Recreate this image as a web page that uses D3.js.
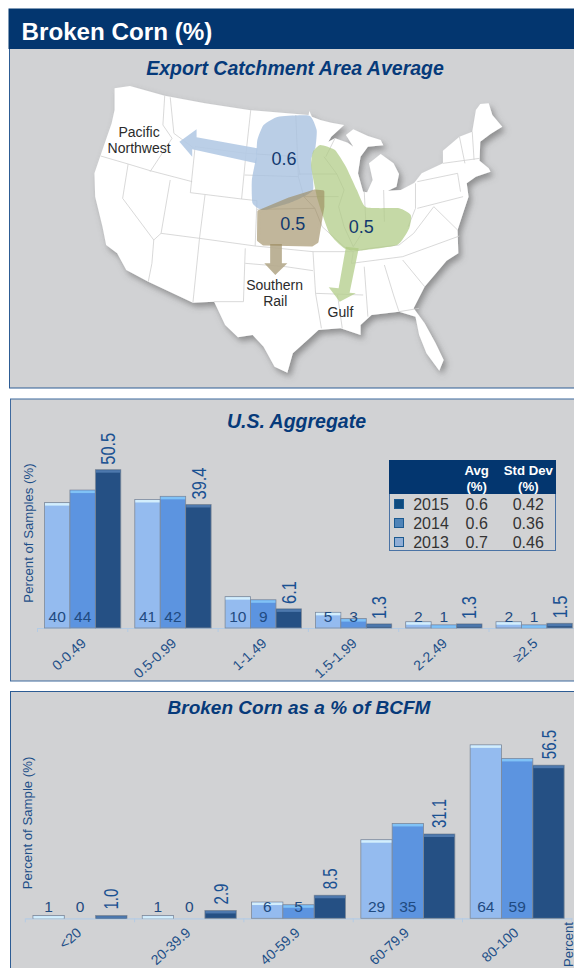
<!DOCTYPE html>
<html>
<head>
<meta charset="utf-8">
<script src="https://cdn.jsdelivr.net/npm/d3@7/dist/d3.min.js"></script>
<style>
  html, body { margin: 0; padding: 0; background: #fff; overflow: hidden; }
  svg { display: block; font-family: "Liberation Sans", Arial, sans-serif; }
</style>
</head>
<body>
<svg id="chart" width="574" height="968"></svg>
<script>
// values
var years = ["2013", "2014", "2015"];

var aggCategories = ["0-0.49", "0.5-0.99", "1-1.49", "1.5-1.99", "2-2.49", "≥2.5"];
var agg2013 = [40, 41, 10, 5, 2, 2];
var agg2014 = [44, 42, 9, 3, 1, 1];
var agg2015 = [50.5, 39.4, 6.1, 1.3, 1.3, 1.5];

var bcfmCategories = ["<20", "20-39.9", "40-59.9", "60-79.9", "80-100"];
var bcfm2013 = [1, 1, 6, 29, 64];
var bcfm2014 = [0, 0, 5, 35, 59];
var bcfm2015 = [1.0, 2.9, 8.5, 31.1, 56.5];

var tableYears = ["2015", "2014", "2013"];
var tableAvg = ["0.6", "0.6", "0.7"];
var tableStd = ["0.42", "0.36", "0.46"];

// map outline and state lines
var usOutline = [[313,265],[355,258],[450,287],[560,310],[680,330],[843,345],[845,333],[852,350],[875,360],[905,368],[940,375],[905,410],[897,425],[915,415],[950,428],[965,440],[945,405],[965,388],[1005,408],[1040,420],[1047,436],[1005,440],[985,470],[978,520],[992,575],[1003,577],[1018,540],[1008,490],[1040,462],[1075,490],[1090,522],[1083,560],[1060,572],[1095,570],[1132,548],[1152,520],[1210,490],[1210,452],[1255,410],[1290,395],[1300,330],[1312,312],[1335,310],[1345,345],[1372,380],[1340,402],[1312,425],[1310,482],[1335,505],[1340,515],[1300,530],[1275,550],[1280,590],[1265,640],[1250,690],[1252,760],[1220,782],[1160,860],[1130,925],[1160,970],[1190,1030],[1212,1080],[1200,1112],[1165,1060],[1145,1005],[1135,950],[1090,935],[1015,945],[985,975],[985,1005],[930,985],[870,990],[850,1010],[800,1060],[785,1118],[750,1100],[720,1040],[690,1005],[650,1012],[615,975],[585,905],[527,908],[405,845],[345,810],[320,760],[290,735],[280,680],[260,590],[258,520],[275,465],[305,370],[313,330]];
var stateLines = [
  [[275,468],[350,492],[410,512],[525,545]],
  [[450,287],[445,375],[470,415],[410,515]],
  [[465,292],[475,400],[530,445]],
  [[350,492],[335,595],[420,720],[415,790],[405,845]],
  [[465,540],[440,700],[420,720]],
  [[533,440],[672,460],[660,597],[520,578],[533,440]],
  [[685,330],[672,460]],
  [[672,460],[810,470],[820,525]],
  [[668,525],[815,530]],
  [[560,585],[545,715],[527,908]],
  [[440,700],[545,715],[697,738],[855,755],[960,755]],
  [[660,597],[702,602],[697,738]],
  [[702,628],[860,625]],
  [[670,745],[665,905]],
  [[585,905],[665,905]],
  [[670,790],[780,800],[855,812]],
  [[855,755],[862,880],[878,985]],
  [[862,880],[992,885]],
  [[808,345],[815,530],[830,590],[860,625],[880,680],[940,740],[965,755],[960,790]],
  [[815,522],[920,522]],
  [[830,590],[925,590]],
  [[885,470],[920,522],[940,570],[925,620],[940,680],[965,740]],
  [[915,415],[890,470]],
  [[960,790],[1100,770],[1255,708]],
  [[960,755],[1010,745],[1090,735],[1130,700],[1185,620],[1250,690]],
  [[995,575],[1000,680],[965,740]],
  [[1048,570],[1050,665]],
  [[1135,550],[1135,625],[1115,680]],
  [[1140,625],[1265,590]],
  [[1140,545],[1250,520],[1258,575]],
  [[995,800],[1005,950]],
  [[1050,795],[1075,885],[1090,935],[1145,925]],
  [[1100,780],[1160,860]],
  [[1255,410],[1270,490]],
  [[1290,395],[1295,480]],
  [[1210,490],[1310,475]],
  [[922,885],[935,985]]
];
var blueRegion = [[760,350],[845,347],[865,390],[862,440],[850,480],[855,570],[800,605],[720,630],[690,610],[688,540],[700,470],[703,420],[720,375]];
var greenRegion = [[875,435],[915,450],[945,500],[975,570],[1000,622],[1090,625],[1122,645],[1118,685],[1085,735],[980,752],[940,745],[900,700],[868,600],[850,500],[855,455]];
var brownRegion = [[860,573],[882,575],[882,620],[866,725],[852,735],[720,732],[706,720],[707,635],[790,597]];
var blueArrow = [[703,445],[537,412],[537,388],[490,425],[525,470],[525,448],[700,490]];
var greenArrow = [[945,740],[980,745],[955,878],[972,880],[928,905],[898,862],[925,865]];
var brownArrow = [[738,732],[770,732],[770,790],[785,790],[752,825],[722,790],[738,790]];

var mapTexts = ["Pacific", "Northwest", "Southern", "Rail", "Gulf"];
var mapTextSpots = [[380,396],[380,444],[750,855],[752,903],[930,935]];
var mapValues = ["0.6", "0.5", "0.5"];
var mapValueSpots = [[776,477],[800,671],[987,681]];

var barColors = { "2013": "#94bbef", "2014": "#5c94e0", "2015": "#255084" };
var stripColors = { "2013": "#d3eefc", "2014": "#80c2f6", "2015": "#4d78ad" };
var navy = "#03366f", titleBlue = "#063a7a", textBlue = "#1d4f88", panelGray = "#d1d2d4";

var svg = d3.select("#chart");

// shadow for the map
svg.append("defs").append("filter")
  .attr("id", "mapShadow")
  .attr("x", "-10%").attr("y", "-10%").attr("width", "120%").attr("height", "120%")
  .append("feDropShadow")
  .attr("dx", 3).attr("dy", 4).attr("stdDeviation", 3)
  .attr("flood-color", "#555").attr("flood-opacity", 0.55);

// panels
function panel(x, y, h, stroke) {
  svg.append("rect")
    .attr("x", x).attr("y", y)
    .attr("width", 574 - x + 5).attr("height", h)
    .attr("fill", panelGray)
    .attr("stroke", stroke).attr("stroke-width", 1);
}
panel(9.5, 48, 340, "#2d5c94");
panel(10.5, 399, 282, "#3f6a9e");
panel(10.5, 691.5, 290, "#2d5c94");

svg.append("rect")
  .attr("x", 8.5).attr("y", 8.5).attr("width", 570).attr("height", 40.5)
  .attr("fill", navy);
svg.append("text")
  .attr("x", 21.5).attr("y", 40)
  .attr("fill", "#fff").attr("font-size", 24.2).attr("font-weight", "bold")
  .text("Broken Corn (%)");

function panelTitle(label, x, y, size) {
  svg.append("text")
    .attr("x", x).attr("y", y)
    .attr("text-anchor", "middle")
    .attr("fill", titleBlue).attr("font-size", size)
    .attr("font-weight", "bold").attr("font-style", "italic")
    .text(label);
}
panelTitle("Export Catchment Area Average", 295, 75, 19.5);
panelTitle("U.S. Aggregate", 296.5, 428, 19.5);
panelTitle("Broken Corn as a % of BCFM", 299, 714, 19);

// map, traced coordinates go through these two scales
var mapX = d3.scaleLinear().domain([0, 1568]).range([0, 574]);
var mapY = d3.scaleLinear().domain([0, 1185]).range([0, 395]);
var sharp = d3.line().x(function(d) { return mapX(d[0]); }).y(function(d) { return mapY(d[1]); });
var round = d3.line().x(function(d) { return mapX(d[0]); }).y(function(d) { return mapY(d[1]); })
  .curve(d3.curveCardinalClosed.tension(0.5));

var map = svg.append("g");
map.append("path")
  .attr("d", sharp(usOutline) + "Z")
  .attr("fill", "#fff")
  .attr("filter", "url(#mapShadow)");
map.append("g").selectAll("path")
  .data(stateLines)
  .enter().append("path")
  .attr("d", sharp)
  .attr("fill", "none")
  .attr("stroke", "#cfcfcf").attr("stroke-width", 0.8);

map.append("path").attr("d", sharp(blueArrow) + "Z").attr("fill", "#b4cae4").attr("opacity", 0.9);
map.append("path").attr("d", round(blueRegion)).attr("fill", "#a9c2e0").attr("opacity", 0.8);
map.append("path").attr("d", sharp(greenArrow) + "Z").attr("fill", "#b6d090").attr("opacity", 0.8);
map.append("path").attr("d", round(greenRegion)).attr("fill", "#aecb84").attr("opacity", 0.72);
map.append("path").attr("d", sharp(brownArrow) + "Z").attr("fill", "#b5aa8c").attr("opacity", 0.9);
map.append("path").attr("d", sharp(brownRegion) + "Z")
  .attr("fill", "#9c8a5e").attr("opacity", 0.62)
  .attr("stroke", "#9c8a5e").attr("stroke-width", 3).attr("stroke-linejoin", "round");

map.append("g").selectAll("text")
  .data(mapTexts)
  .enter().append("text")
  .attr("x", function(d, i) { return mapX(mapTextSpots[i][0]); })
  .attr("y", function(d, i) { return mapY(mapTextSpots[i][1]); })
  .attr("dy", ".35em")
  .attr("text-anchor", "middle")
  .attr("font-size", 14).attr("fill", "#2b2b2b")
  .text(function(d) { return d; });
map.append("g").selectAll("text")
  .data(mapValues)
  .enter().append("text")
  .attr("x", function(d, i) { return mapX(mapValueSpots[i][0]); })
  .attr("y", function(d, i) { return mapY(mapValueSpots[i][1]); })
  .attr("dy", ".35em")
  .attr("text-anchor", "middle")
  .attr("font-size", 18).attr("fill", "#12396f")
  .text(function(d) { return d; });

// grouped bars
function groupedBars(o) {
  var x0 = d3.scaleBand().domain(o.categories)
    .range([o.left, o.left + o.step * o.categories.length])
    .paddingInner(o.gap).paddingOuter(o.gap / 2);
  var x1 = d3.scaleBand().domain(years).range([0, x0.bandwidth()]);
  var y = d3.scaleLinear().domain([0, o.maxValue]).range([o.baseline, o.baseline - o.maxValue * o.pxPerUnit]);

  var g = svg.append("g");
  var rows = [];
  o.series.forEach(function(values, s) {
    values.forEach(function(v, i) {
      rows.push({ year: years[s], cat: o.categories[i], value: v });
    });
  });

  // axis, labels from d3 and the separators sit on band edges
  var axis = g.append("g")
    .attr("transform", "translate(0," + o.baseline + ")")
    .call(d3.axisBottom(x0).tickSize(0).tickPadding(0));
  axis.select(".domain").attr("stroke", "#b4cbe4").attr("stroke-width", 1.2);
  axis.selectAll("text")
    .attr("transform", "translate(" + o.labelDx + "," + o.labelDy + ") rotate(-42)")
    .attr("y", 0).attr("dy", ".35em")
    .style("text-anchor", "end")
    .attr("font-family", "Liberation Sans")
    .attr("font-size", 14)
    .attr("fill", textBlue);
  axis.selectAll(".sep")
    .data(d3.range(o.categories.length + 1))
    .enter().append("line")
    .attr("class", "sep")
    .attr("x1", function(d) { return o.left + d * o.step; })
    .attr("x2", function(d) { return o.left + d * o.step; })
    .attr("y1", 0).attr("y2", 4)
    .attr("stroke", "#b4cbe4");

  var bars = g.selectAll(".bar").data(rows).enter().append("g").attr("class", "bar")
    .attr("transform", function(d) { return "translate(" + (x0(d.cat) + x1(d.year)) + ",0)"; });
  bars.append("rect")
    .attr("y", function(d) { return y(d.value); })
    .attr("width", x1.bandwidth())
    .attr("height", function(d) { return y(0) - y(d.value); })
    .attr("fill", function(d) { return barColors[d.year]; })
    .attr("stroke", "#7f8a99").attr("stroke-width", 0.8);
  bars.append("rect")
    .attr("x", 0.5)
    .attr("y", function(d) { return y(d.value) + 0.5; })
    .attr("width", x1.bandwidth() - 1)
    .attr("height", function(d) { return Math.min(2.5, y(0) - y(d.value)); })
    .attr("fill", function(d) { return stripColors[d.year]; });

  // value labels, older years flat at the foot, latest turned above the bar and squeezed like the original
  bars.append("text")
    .attr("transform", function(d) {
      if (d.year == "2015") return "translate(" + x1.bandwidth() / 2 + "," + (y(d.value) - o.labelGap) + ") rotate(-90) scale(" + o.turnedSqueeze + ",1)";
      return "translate(" + x1.bandwidth() / 2 + "," + (o.baseline - o.footLabel) + ")";
    })
    .attr("dy", ".36em")
    .attr("text-anchor", function(d) { return d.year == "2015" ? "start" : "middle"; })
    .attr("font-size", function(d) { return d.year == "2015" ? 20 : 15.5; })
    .attr("fill", function(d) { return d.year == "2015" ? "#1a5192" : "#1f4a80"; })
    .text(function(d) { return d.year == "2015" ? d.value.toFixed(1) : d.value; });

  svg.append("text")
    .attr("transform", "translate(" + o.titleX + "," + o.titleY + ") rotate(-90)")
    .attr("dy", ".35em")
    .attr("text-anchor", "middle")
    .attr("font-size", 13.2).attr("fill", textBlue)
    .text(o.title);
}

groupedBars({
  categories: aggCategories,
  series: [agg2013, agg2014, agg2015],
  left: 37.5, step: 90.3, gap: 0.155,
  baseline: 628, pxPerUnit: 3.135, maxValue: 55,
  labelDx: 1, labelDy: 13, labelGap: 5, footLabel: 12, turnedSqueeze: 0.82,
  title: "Percent of Samples (%)", titleX: 28.5, titleY: 533
});
groupedBars({
  categories: bcfmCategories,
  series: [bcfm2013, bcfm2014, bcfm2015],
  left: 25.3, step: 109.3, gap: 0.14,
  baseline: 918.3, pxPerUnit: 2.71, maxValue: 70,
  labelDx: -1, labelDy: 12, labelGap: 6, footLabel: 11.5, turnedSqueeze: 0.75,
  title: "Percent of Sample (%)", titleX: 27, titleY: 823
});

svg.append("text")
  .attr("transform", "translate(568,967) rotate(-90)")
  .attr("dy", ".35em")
  .attr("font-size", 13).attr("fill", textBlue)
  .text("Percent");

// legend table
var tableRow = d3.scalePoint().domain(tableYears).range([504, 542]);
var swatchFill = { "2015": "#0d4a7e", "2014": "#4f84b8", "2013": "#90aed6" };
var table = svg.append("g");
table.append("rect")
  .attr("x", 389.5).attr("y", 460.5).attr("width", 166).attr("height", 90)
  .attr("fill", panelGray)
  .attr("stroke", "#4a73a5").attr("stroke-width", 1);
table.append("rect")
  .attr("x", 389).attr("y", 460).attr("width", 167).attr("height", 34)
  .attr("fill", navy);
[["Avg", 476.7, 470], ["(%)", 476.7, 486], ["Std Dev", 528.3, 470], ["(%)", 528.3, 486]].forEach(function(h) {
  table.append("text")
    .attr("x", h[1]).attr("y", h[2]).attr("dy", ".35em")
    .attr("text-anchor", "middle")
    .attr("fill", "#fff").attr("font-size", 13.2).attr("font-weight", "bold")
    .text(h[0]);
});
tableYears.forEach(function(yr, i) {
  var cy = tableRow(yr);
  table.append("rect")
    .attr("x", 394.5).attr("y", cy - 4.5).attr("width", 9).attr("height", 9)
    .attr("fill", swatchFill[yr]).attr("stroke", "#1c5a90");
  [[yr, 431], [tableAvg[i], 476.7], [tableStd[i], 528.3]].forEach(function(c) {
    table.append("text")
      .attr("x", c[1]).attr("y", cy).attr("dy", ".35em")
      .attr("text-anchor", "middle")
      .attr("fill", "#333").attr("font-size", 16)
      .text(c[0]);
  });
});
</script>
</body>
</html>
